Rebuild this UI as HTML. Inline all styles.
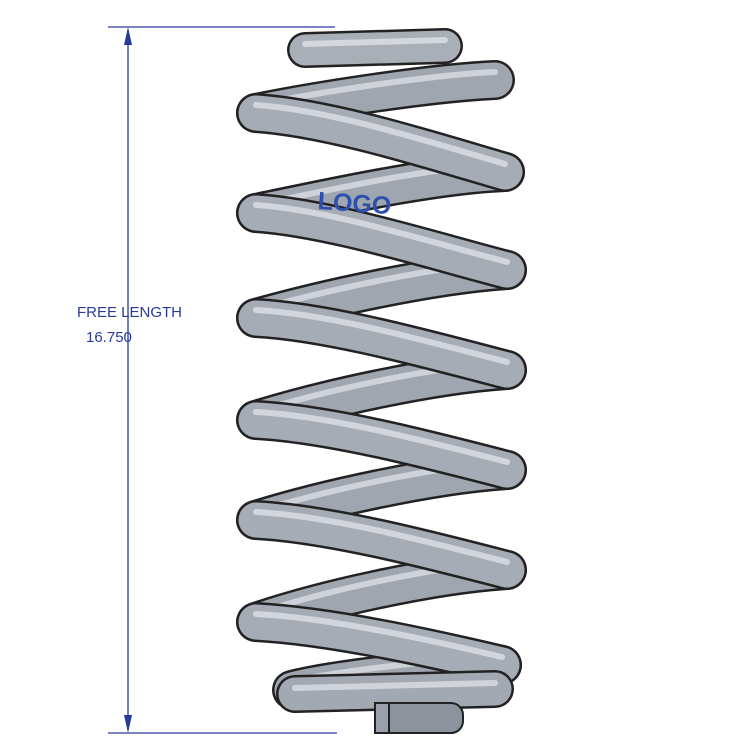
<!DOCTYPE html>
<html><head><style>
html,body{margin:0;padding:0;background:#fff;}
svg{display:block;}
</style></head><body>
<svg width="750" height="750" viewBox="0 0 750 750" xmlns="http://www.w3.org/2000/svg">
<!-- dimension -->
<g stroke="#2a3a9a" stroke-width="1.3" fill="#2a3a9a">
<line x1="108" y1="27" x2="335" y2="27"/>
<line x1="108" y1="733" x2="337" y2="733"/>
<line x1="128" y1="30" x2="128" y2="730"/>
<polygon points="128,27 124,45 132,45" stroke="none"/>
<polygon points="128,733 124,715 132,715" stroke="none"/>
</g>
<text x="77" y="317" font-family="Liberation Sans, sans-serif" font-size="15" fill="#2a3a9a">FREE LENGTH</text>
<text x="86" y="342" font-family="Liberation Sans, sans-serif" font-size="15" fill="#2a3a9a">16.750</text>
<g fill="none" stroke-linecap="round">
<!-- back strands -->
<path d="M495,80 C430,83 320,100 256,113 M505,172 C430,175 320,200 256,213 M507,270 C430,275 320,300 256,318 M507,370 C430,375 320,400 256,420 M507,470 C430,475 320,500 256,520 M507,570 C430,575 320,600 256,622 M502,665 C430,668 330,680 292,690" stroke="#222" stroke-width="40"/>
<path d="M495,80 C430,83 320,100 256,113 M505,172 C430,175 320,200 256,213 M507,270 C430,275 320,300 256,318 M507,370 C430,375 320,400 256,420 M507,470 C430,475 320,500 256,520 M507,570 C430,575 320,600 256,622 M502,665 C430,668 330,680 292,690" stroke="#a0a6af" stroke-width="35"/>
<path d="M495,72 C430,75 320,92 256,105 M505,164 C430,167 320,192 256,205 M507,262 C430,267 320,292 256,310 M507,362 C430,367 320,392 256,412 M507,462 C430,467 320,492 256,512 M507,562 C430,567 320,592 256,614 M502,657 C430,660 330,672 292,682" stroke="#cfd3d9" stroke-width="6"/>
<!-- top flat coil -->
<path d="M305,50 L445,46" stroke="#222" stroke-width="36"/>
<path d="M305,50 L445,46" stroke="#a9afb7" stroke-width="31"/>
<path d="M305,44 L445,40" stroke="#d4d8de" stroke-width="6"/>
<!-- front strands -->
<path d="M256,113 C330,118 430,150 505,172 M256,213 C330,218 430,250 507,270 M256,318 C330,322 430,350 507,370 M256,420 C330,424 430,450 507,470 M256,520 C330,524 430,550 507,570 M256,622 C330,626 430,648 502,665" stroke="#222" stroke-width="40"/>
<path d="M256,113 C330,118 430,150 505,172 M256,213 C330,218 430,250 507,270 M256,318 C330,322 430,350 507,370 M256,420 C330,424 430,450 507,470 M256,520 C330,524 430,550 507,570 M256,622 C330,626 430,648 502,665" stroke="#a6acb5" stroke-width="35"/>
<path d="M256,105 C330,110 430,142 505,164 M256,205 C330,210 430,242 507,262 M256,310 C330,314 430,342 507,362 M256,412 C330,416 430,442 507,462 M256,512 C330,516 430,542 507,562 M256,614 C330,618 430,640 502,657" stroke="#d2d6dc" stroke-width="6"/>
<!-- bottom flat coil -->
<path d="M295,694 L495,689" stroke="#222" stroke-width="38"/>
<path d="M295,694 L495,689" stroke="#a3a9b2" stroke-width="33"/>
<path d="M295,688 L495,683" stroke="#d0d4da" stroke-width="6"/>
</g>
<rect x="375" y="703" width="88" height="30" rx="12" fill="#8d939d" stroke="#222" stroke-width="2"/>
<rect x="375" y="703" width="14" height="30" fill="#9aa0a9" stroke="#222" stroke-width="2"/>
<text x="318" y="212" font-family="Liberation Sans, sans-serif" font-size="25" font-weight="bold" fill="#2d4fb0" transform="rotate(4 360 200)">LOGO</text>
</svg>
</body></html>
